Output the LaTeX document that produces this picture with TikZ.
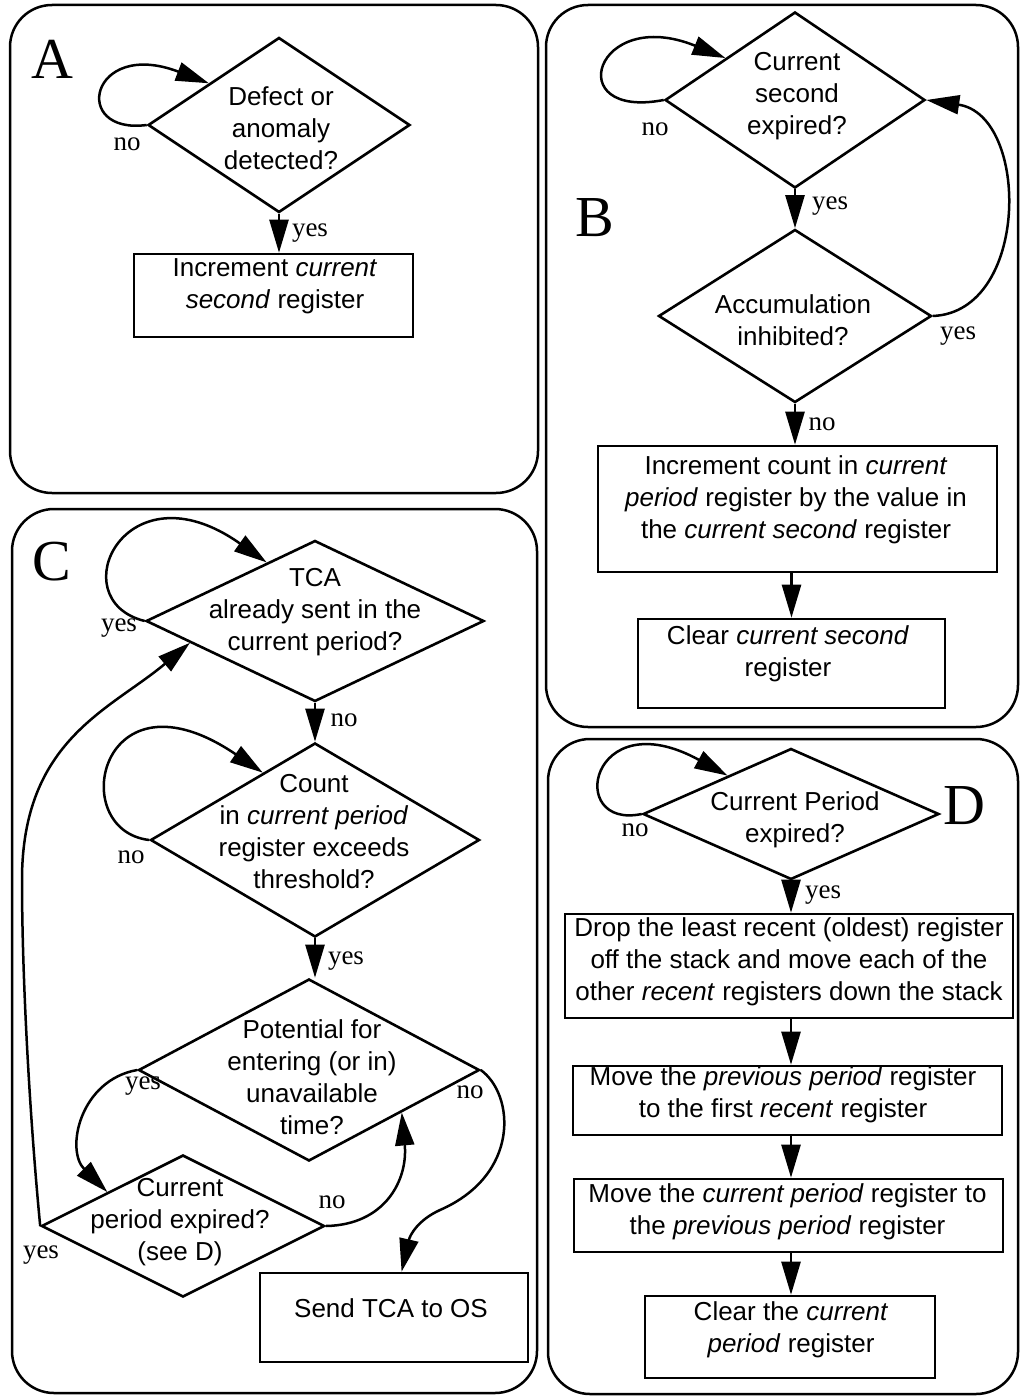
\documentclass[tikz,border=0pt]{standalone}
\usepackage{fontspec}
\setmainfont{Liberation Serif}
\setsansfont{Liberation Sans}
\usetikzlibrary{shapes.geometric,arrows.meta,calc}

\begin{document}
\begin{tikzpicture}[x=1pt,y=-1pt,
  line join=miter,
  panel/.style={draw, rounded corners=42pt, line width=2.5pt},
  dia/.style={draw, diamond, inner sep=0pt, line width=2.6pt},
  box/.style={draw, rectangle, inner sep=0pt, line width=2.6pt},
  txt/.style={font=\sffamily\fontsize{26}{32}\selectfont, align=center, inner sep=0pt},
  lbl/.style={font=\rmfamily\fontsize{27}{30}\selectfont, inner sep=0pt},
  big/.style={font=\rmfamily\fontsize{58}{60}\selectfont, inner sep=0pt},
  arr/.style={-{Triangle[length=33pt,width=19pt]}, line width=2.5pt},
]
\useasboundingbox (0,0) rectangle (1021,1397);

% ---------- panel outlines ----------
\draw[panel] (10,5) rectangle (538,493);
\draw[panel] (546,5) rectangle (1018,727);
\draw[panel] (12,509) rectangle (537,1393);
\draw[panel] (548,739) rectangle (1018,1394);

\node[big] (lA) at (52,59) {A};
\node[big] (lB) at (595,218) {B};
\node[big] (lC) at (52,562) {C};
\node[big] (lD) at (964,806) {D};

% ---------- A: count defects within the second ----------
\node[dia, minimum width=262pt, minimum height=175pt] (a1) at (279,125) {};
\node[txt] (a1t) at (281,128) {Defect or\\anomaly\\detected?};
\node[box, minimum width=279pt, minimum height=83pt] (ra) at (273.5,295.5) {};
\node[txt] (rat) at (275,286) {Increment \textit{current}\\\textit{second} register};

\draw[arr] (a1.west) .. controls (70,135) and (90,38) .. ($(a1.west)!0.47!(a1.north)$);
\draw[arr] (a1.south) -- (a1.south |- ra.north);
\node[lbl] (anoA) at (127,144) {no};
\node[lbl] (ayesA) at (310,233) {yes};

% ---------- B: end of each second ----------
\node[dia, minimum width=260pt, minimum height=176pt] (b1) at (795,100) {};
\node[txt] (b1t) at (797,96) {Current\\second\\expired?};
\node[dia, minimum width=273pt, minimum height=173pt] (b2) at (795,316) {};
\node[txt] (b2t) at (793,320) {Accumulation\\inhibited?};
\node[box, minimum width=399pt, minimum height=126pt] (rb1) at (797.5,509) {};
\node[txt] (rb1t) at (796,500) {Increment count in \textit{current}\\\textit{period} register by the value in\\the \textit{current second} register};
\node[box, minimum width=307pt, minimum height=89pt] (rb2) at (791.5,663.5) {};
\node[txt] (rb2t) at (788,654) {Clear \textit{current second}\\register};

\draw[arr] (b1.west) .. controls (560,120) and (595,5) .. ($(b1.west)!0.47!(b1.north)$);
\draw[arr] (b1.south) -- (b2.north);
\draw[arr] (b2.east) .. controls (1030,312) and (1030,115) .. (b1.east);
\draw[arr] (b2.south) -- (b2.south |- rb1.north);
\draw[arr] (rb2.north |- rb1.south) -- (rb2.north);
\node[lbl] (bno1) at (655,129) {no};
\node[lbl] (byes1) at (830,206) {yes};
\node[lbl] (byes2) at (958,336) {yes};
\node[lbl] (bno2) at (822,424) {no};

% ---------- C: threshold crossing alert ----------
\node[dia, minimum width=338pt, minimum height=161pt] (c1) at (315,621) {};
\node[txt] (c1t) at (315,612) {TCA\\already sent in the\\current period?};
\node[dia, minimum width=329pt, minimum height=194pt] (c2) at (315,840) {};
\node[txt] (c2t) at (314,832) {Count\\in \textit{current period}\\register exceeds\\threshold?};
\node[dia, minimum width=341pt, minimum height=182pt] (c3) at (309,1070) {};
\node[txt] (c3t) at (312,1077) {Potential for\\entering (or in)\\unavailable\\time?};
\node[dia, minimum width=283pt, minimum height=142pt] (c4) at (183,1226) {};
\node[txt] (c4t) at (180,1222) {Current\\period expired?\\(see D)};
\node[box, minimum width=268pt, minimum height=89pt] (rc) at (394,1317.5) {};
\node[txt] (rct) at (391,1308) {Send TCA to OS};

\coordinate (cbend) at (22,880);
\coordinate (cturn) at (440,1210);

\draw[arr] (c1.west) .. controls (60,600) and (125,462) .. ($(c1.west)!0.716!(c1.north)$);
\draw[arr] (c1.south) -- (c2.north);
\draw[arr] (c2.west) .. controls (65,830) and (100,662) .. ($(c2.west)!0.685!(c2.north)$);
\draw[arr] (c2.south) -- (c2.south |- c3.north);
\draw[arr] (c3.west) .. controls (80,1080) and (65,1150) .. ($(c4.west)!0.47!(c4.north)$);
\draw[arr] (c4.east) .. controls (385,1225) and (408,1180) .. ($(c3.south)!0.54!(c3.east)$);
\draw[arr] (c3.east) .. controls (515,1095) and (520,1175) .. (cturn)
   .. controls (418,1220) and (410,1235) .. ($(rc.north west)!0.528!(rc.north east)$);
\draw[arr] (c4.west) .. controls (30,1120) and (22,980) .. (cbend)
   .. controls (22,740) and (110,710) .. ($(c1.west)!0.266!(c1.south)$);

\node[lbl] (cyes1) at (119,628) {yes};
\node[lbl] (cno1) at (344,720) {no};
\node[lbl] (cno2) at (131,857) {no};
\node[lbl] (cyes2) at (346,961) {yes};
\node[lbl] (cyes3) at (143,1086) {yes};
\node[lbl] (cno3) at (470,1092) {no};
\node[lbl] (cno4) at (332,1202) {no};
\node[lbl] (cyes4) at (41,1255) {yes};

% ---------- D: end of each period ----------
\node[dia, minimum width=296pt, minimum height=131pt] (d1) at (791,814) {};
\node[txt] (d1t) at (795,820) {Current Period\\expired?};
\node[box, minimum width=448pt, minimum height=104pt] (rd1) at (789,966) {};
\node[txt] (rd1t) at (789,962) {Drop the least recent (oldest) register\\off the stack and move each of the\\other \textit{recent} registers down the stack};
\node[box, minimum width=429pt, minimum height=69pt] (rd2) at (787.5,1100.5) {};
\node[txt] (rd2t) at (783,1095) {Move the \textit{previous period} register\\to the first \textit{recent} register};
\node[box, minimum width=429pt, minimum height=73pt] (rd3) at (788.5,1215.5) {};
\node[txt] (rd3t) at (787.5,1212) {Move the \textit{current period} register to\\the \textit{previous period} register};
\node[box, minimum width=290pt, minimum height=82pt] (rd4) at (790,1337) {};
\node[txt] (rd4t) at (791,1330) {Clear the \textit{current}\\\textit{period} register};

\draw[arr] (d1.west) .. controls (565,830) and (590,700) .. ($(d1.west)!0.575!(d1.north)$);
\draw[arr] (d1.south) -- (d1.south |- rd1.north);
\draw[arr] (rd1.south -| d1.south) -- (rd2.north -| d1.south);
\draw[arr] (rd2.south -| d1.south) -- (rd3.north -| d1.south);
\draw[arr] (rd3.south -| d1.south) -- (rd4.north -| d1.south);
\node[lbl] (dno) at (635,830) {no};
\node[lbl] (dyes) at (823,895) {yes};

\end{tikzpicture}
\end{document}
